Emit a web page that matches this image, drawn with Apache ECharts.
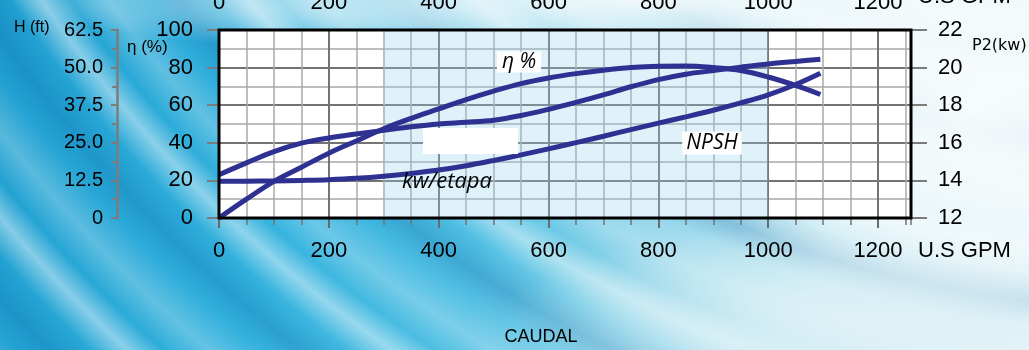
<!DOCTYPE html>
<html>
<head>
<meta charset="utf-8">
<script src="https://cdn.jsdelivr.net/npm/echarts@6.0.0/dist/echarts.min.js"></script>
<style>
html, body { margin: 0; padding: 0; }
body {
  width: 1029px; height: 350px; overflow: hidden;
  background:
    radial-gradient(ellipse 300px 200px at 975px 110px, rgba(248,252,253,0.97) 0%, rgba(248,252,253,0.7) 45%, rgba(248,252,253,0) 100%),
    radial-gradient(ellipse 640px 60px at 650px 0px, rgba(244,250,251,0.97) 0%, rgba(244,250,251,0.6) 55%, rgba(244,250,251,0) 100%),
    radial-gradient(ellipse 380px 100px at 880px 320px, rgba(222,241,246,0.9) 0%, rgba(222,241,246,0) 100%),
    repeating-radial-gradient(circle at 1150px -760px, rgba(255,255,255,0) 0px, rgba(255,255,255,0.45) 24px, rgba(255,255,255,0) 50px, rgba(10,100,165,0.25) 78px, rgba(255,255,255,0) 102px, rgba(255,255,255,0.25) 135px, rgba(255,255,255,0) 165px),
    linear-gradient(100deg, #1f9fd0 0%, #33b2de 28%, #52c0e3 48%, #93d6ea 64%, #c9eaf3 80%, #e3f3f7 100%);
}
#chart { width: 1029px; height: 350px; }
</style>
</head>
<body>
<div id="chart"></div>
<script>
// ---- data ----
const flowGpm = [0, 50, 100, 150, 200, 250, 300, 350, 400, 450, 500, 550, 600, 650, 700, 750, 800, 850, 900, 950, 1000, 1050, 1095];
const efficiencyPct = [0, 10, 19.5, 27, 34.5, 41, 47.5, 53, 58, 63, 67.5, 71.5, 74.5, 76.8, 78.6, 80, 80.7, 80.8, 80, 78.5, 75, 70.5, 65.7];
const powerKw = [14.30, 14.93, 15.53, 15.98, 16.26, 16.47, 16.66, 16.85, 17.00, 17.09, 17.20, 17.45, 17.78, 18.15, 18.55, 18.98, 19.36, 19.65, 19.84, 20.02, 20.19, 20.33, 20.45];
const npshFt = [12.25, 12.25, 12.31, 12.5, 12.75, 13.19, 13.88, 14.81, 15.94, 17.38, 19.13, 21.0, 23.0, 25.06, 27.19, 29.38, 31.56, 33.63, 35.81, 38.25, 40.94, 44.38, 48.13];
const shadedFlowRange = [300, 1000];
const flowAxisRange = [0, 1260];
const headAxisRange = [0, 62.5];
const etaAxisRange = [0, 100];
const powerAxisRange = [12, 22];
const curveLabels = { eta: 'η %', power: 'kw/etapa', npsh: 'NPSH' };
const axisTitles = { head: 'H (ft)', eta: 'η (%)', power: 'P2(kw)', flowUnit: 'U.S GPM', flow: 'CAUDAL' };

const pairs = (ys) => flowGpm.map((q, i) => [q, ys[i]]);

const AX_FONT = 'Liberation Sans, Arial, sans-serif';
const CURVE = '#2e3192';
const DARK = '#737373';
const LIGHT = '#a8a8a8';
const G = { left: 219, top: 30, width: 692, height: 188 };
const plain = (v) => String(v);

const chart = echarts.init(document.getElementById('chart'), null, { renderer: 'canvas' });
const curve = (name, data, yIdx) => ({
  name, type: 'line', xAxisIndex: 1, yAxisIndex: yIdx, data,
  smooth: 0.35, symbol: 'none', z: 5,
  lineStyle: { color: CURVE, width: 5 }
});

chart.setOption({
  backgroundColor: 'transparent',
  animation: false,
  grid: { left: G.left, top: G.top, width: G.width, height: G.height, show: true, backgroundColor: '#ffffff', borderWidth: 0,
          containLabel: false, outerBoundsMode: 'none' },
  xAxis: [
    { type: 'value', position: 'bottom', min: flowAxisRange[0], max: flowAxisRange[1], interval: 50,
      axisLine: { show: false, onZero: false },
      axisTick: { show: true, length: 7, lineStyle: { color: DARK, width: 1.5 } },
      axisLabel: { show: false },
      splitLine: { show: true, lineStyle: { color: LIGHT, width: 1.5 } } },
    { type: 'value', position: 'bottom', min: flowAxisRange[0], max: flowAxisRange[1], interval: 200,
      axisLine: { show: false, onZero: false },
      axisTick: { show: true, length: 10, lineStyle: { color: '#6a6a6a', width: 2 } },
      axisLabel: { margin: 22, fontSize: 22, color: '#000', fontFamily: AX_FONT, showMaxLabel: false, formatter: plain },
      splitLine: { show: true, lineStyle: { color: DARK, width: 2 } } },
    { type: 'value', position: 'top', min: flowAxisRange[0], max: flowAxisRange[1], interval: 200,
      axisLine: { show: false, onZero: false },
      axisTick: { show: false },
      axisLabel: { margin: 16, fontSize: 22, color: '#000', fontFamily: AX_FONT, showMaxLabel: false, formatter: plain },
      splitLine: { show: false } }
  ],
  yAxis: [
    { type: 'value', position: 'left', min: etaAxisRange[0], max: etaAxisRange[1], interval: 20,
      axisLine: { show: false, onZero: false },
      axisTick: { show: true, length: 12, lineStyle: { color: '#7c7c7c', width: 2 } },
      axisLabel: { margin: 26, fontSize: 22, color: '#000', fontFamily: AX_FONT, formatter: plain },
      splitLine: { show: true, lineStyle: { color: DARK, width: 2 } },
      minorTick: { show: false, splitNumber: 2 },
      minorSplitLine: { show: true, lineStyle: { color: LIGHT, width: 1.5 } } },
    { type: 'value', position: 'left', offset: 102, min: headAxisRange[0], max: headAxisRange[1], interval: 12.5,
      axisLine: { show: true, onZero: false, lineStyle: { color: '#7c7c7c', width: 2.5 } },
      axisTick: { show: true, length: 6, lineStyle: { color: '#7c7c7c', width: 2 } },
      minorTick: { show: true, splitNumber: 2, length: 5, lineStyle: { color: '#7c7c7c', width: 2 } },
      axisLabel: { margin: 14, fontSize: 20, color: '#000', fontFamily: AX_FONT,
        formatter: (v) => v === 0 ? '0' : v.toFixed(1) },
      splitLine: { show: false } },
    { type: 'value', position: 'right', min: powerAxisRange[0], max: powerAxisRange[1], interval: 2,
      axisLine: { show: false, onZero: false },
      axisTick: { show: true, length: 16, lineStyle: { color: '#7c7c7c', width: 2 } },
      axisLabel: { margin: 27, fontSize: 22, color: '#000', fontFamily: AX_FONT, formatter: plain },
      splitLine: { show: false } }
  ],
  series: [
    { name: 'zona', type: 'line', xAxisIndex: 1, yAxisIndex: 0, data: [], z: 1,
      markArea: { silent: true, itemStyle: { color: 'rgba(150,212,238,0.30)' },
        data: [[{ xAxis: shadedFlowRange[0] }, { xAxis: shadedFlowRange[1] }]] } },
    curve(curveLabels.eta, pairs(efficiencyPct), 0),
    curve(curveLabels.power, pairs(powerKw), 2),
    curve(curveLabels.npsh, pairs(npshFt), 1)
  ],
  graphic: [
    { type: 'rect', z: 50, shape: { x: G.left, y: G.top, width: G.width, height: G.height },
      style: { fill: 'none', stroke: '#000', lineWidth: 3 } },
    { type: 'rect', z: 20, shape: { x: 423, y: 128, width: 95, height: 26 }, style: { fill: '#ffffff' } },
    { type: 'text', z: 30, x: 519, y: 62,
      style: { text: curveLabels.eta, font: 'italic 21px "Open Sans", sans-serif', fill: '#000',
        textAlign: 'center', textVerticalAlign: 'middle', align: 'center', verticalAlign: 'middle',
        backgroundColor: '#fff', padding: [0, 5, 0, 5] } },
    { type: 'text', z: 30, x: 402, y: 182,
      style: { text: curveLabels.power, font: 'italic 22px "Open Sans", sans-serif', fill: '#000',
        textAlign: 'left', textVerticalAlign: 'middle', align: 'left', verticalAlign: 'middle' } },
    { type: 'text', z: 30, x: 712, y: 143,
      style: { text: curveLabels.npsh, font: 'italic 21px "Open Sans", sans-serif', fill: '#000',
        textAlign: 'center', textVerticalAlign: 'middle', align: 'center', verticalAlign: 'middle',
        backgroundColor: '#fff', padding: [1, 4, 1, 4] } },
    { type: 'text', x: 14, y: 28,
      style: { text: axisTitles.head, font: '16px "Liberation Sans", Arial, sans-serif', fill: '#000',
        textAlign: 'left', textVerticalAlign: 'middle', align: 'left', verticalAlign: 'middle' } },
    { type: 'text', x: 127, y: 47,
      style: { text: axisTitles.eta, font: '17px "Liberation Sans", Arial, sans-serif', fill: '#000',
        textAlign: 'left', textVerticalAlign: 'middle', align: 'left', verticalAlign: 'middle' } },
    { type: 'text', x: 972, y: 46,
      style: { text: axisTitles.power, font: '16px "DejaVu Sans", sans-serif', fill: '#000',
        textAlign: 'left', textVerticalAlign: 'middle', align: 'left', verticalAlign: 'middle' } },
    { type: 'text', x: 918, y: 251,
      style: { text: axisTitles.flowUnit, font: '22px "Liberation Sans", Arial, sans-serif', fill: '#000',
        textAlign: 'left', textVerticalAlign: 'middle', align: 'left', verticalAlign: 'middle' } },
    { type: 'text', x: 918, y: -3,
      style: { text: axisTitles.flowUnit, font: '22px "Liberation Sans", Arial, sans-serif', fill: '#000',
        textAlign: 'left', textVerticalAlign: 'middle', align: 'left', verticalAlign: 'middle' } },
    { type: 'text', x: 541, y: 337,
      style: { text: axisTitles.flow, font: '18px "Liberation Sans", Arial, sans-serif', fill: '#000',
        textAlign: 'center', textVerticalAlign: 'middle', align: 'center', verticalAlign: 'middle' } }
  ]
});
</script>
</body>
</html>
